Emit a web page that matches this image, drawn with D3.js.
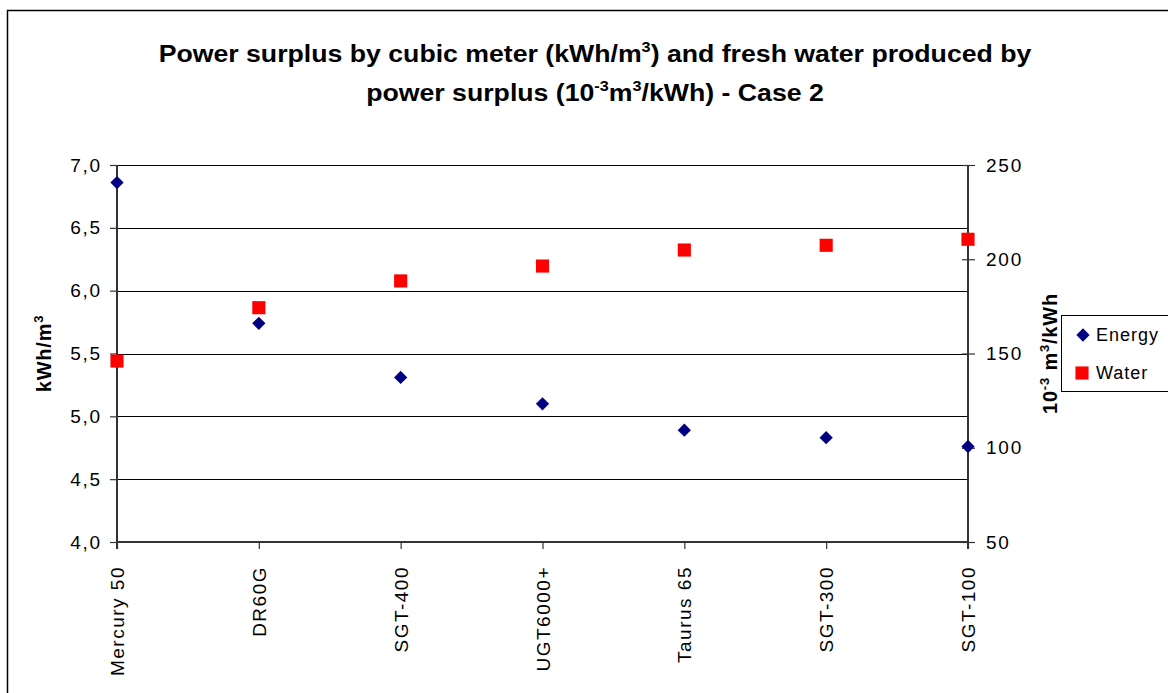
<!DOCTYPE html>
<html>
<head>
<meta charset="utf-8">
<script src="https://cdn.jsdelivr.net/npm/d3@7"></script>
<style>
  html, body { margin: 0; padding: 0; background: #fff; }
  svg { display: block; font-family: "Liberation Sans", Arial, sans-serif; }
</style>
</head>
<body>
<svg id="chart" width="1168" height="693"></svg>
<script>
const categories = ["Mercury 50", "DR60G", "SGT-400", "UGT6000+", "Taurus 65", "SGT-300", "SGT-100"];
const energyValues = [6.86, 5.74, 5.31, 5.10, 4.89, 4.83, 4.76];
const waterValues = [146, 174.3, 188.5, 196.4, 204.9, 207.4, 210.6];
const leftTicks = [4.0, 4.5, 5.0, 5.5, 6.0, 6.5, 7.0];
const rightTicks = [50, 100, 150, 200, 250];
const seriesNames = ["Energy", "Water"];
const seriesColors = ["#000080", "#FF0000"];

const svg = d3.select("#chart");
const plot = { left: 117, right: 968, top: 165, bottom: 542 };
const FONT = "Liberation Sans, Arial, sans-serif";

// outer border (right/bottom edges fall outside the view)
svg.append("rect").attr("x", 7.5).attr("y", 10.5).attr("width", 1200).attr("height", 700)
  .attr("fill", "none").attr("stroke", "#000").attr("stroke-width", 1.5);

const x = d3.scalePoint().domain(categories).range([plot.left, plot.right]);
const yL = d3.scaleLinear().domain([4, 7]).range([plot.bottom, plot.top]);
const yR = d3.scaleLinear().domain([50, 250]).range([plot.bottom, plot.top]);

// gridlines
svg.append("g").selectAll("line").data(leftTicks.filter(d => d > 4)).join("line")
  .attr("x1", plot.left).attr("x2", plot.right)
  .attr("y1", d => Math.round(yL(d)) + 0.5).attr("y2", d => Math.round(yL(d)) + 0.5)
  .attr("stroke", "#000").attr("stroke-width", 1);

const fmt = d => d3.format(".1f")(d).replace(".", ",");
const tickFont = 19, tickSpacing = 1.8;

// left axis
const gL = svg.append("g").attr("transform", `translate(${plot.left},0)`)
  .call(d3.axisLeft(yL).tickValues(leftTicks).tickFormat(fmt).tickSize(7).tickPadding(8));
gL.select(".domain").attr("stroke", "#333").attr("stroke-width", 2).attr("d", `M0,${plot.top}V${plot.bottom + 7}`);
gL.selectAll(".tick line").attr("stroke", "#333").attr("stroke-width", 1.2);
gL.selectAll("text").attr("font-size", tickFont).attr("font-family", FONT)
  .attr("fill", "#000").style("letter-spacing", tickSpacing + "px");

// right axis
const gR = svg.append("g").attr("transform", `translate(${plot.right},0)`)
  .call(d3.axisRight(yR).tickValues(rightTicks).tickFormat(d3.format("d")).tickSize(7).tickPadding(11));
gR.select(".domain").attr("stroke", "#333").attr("stroke-width", 2).attr("d", `M0,${plot.top}V${plot.bottom + 7}`);
gR.selectAll(".tick line").attr("x1", -6).attr("stroke", "#333").attr("stroke-width", 1.2);
gR.selectAll("text").attr("font-size", tickFont).attr("font-family", FONT)
  .attr("fill", "#000").style("letter-spacing", tickSpacing + "px");

// bottom axis
const gB = svg.append("g").attr("transform", `translate(0,${plot.bottom})`)
  .call(d3.axisBottom(x).tickSize(7));
gB.select(".domain").attr("stroke", "#333").attr("stroke-width", 2).attr("d", `M${plot.left},0H${plot.right}`);
gB.selectAll(".tick line").attr("stroke", "#333").attr("stroke-width", 1.2);
gB.selectAll("text")
  .attr("font-size", tickFont).attr("font-family", FONT).attr("fill", "#000")
  .style("letter-spacing", "1.5px")
  .attr("text-anchor", "end")
  .attr("transform", "rotate(-90)")
  .attr("x", -24).attr("y", 0).attr("dy", "0.35em");

// series
const diamond = d3.symbol().type(d3.symbolSquare).size(88);
const square = d3.symbol().type(d3.symbolSquare).size(172);

svg.append("g").selectAll("path").data(categories).join("path")
  .attr("d", square)
  .attr("transform", (c, i) => `translate(${x(c)},${yR(waterValues[i])})`)
  .attr("fill", seriesColors[1]);

svg.append("g").selectAll("path").data(categories).join("path")
  .attr("d", diamond)
  .attr("transform", (c, i) => `translate(${x(c)},${yL(energyValues[i])}) rotate(45)`)
  .attr("fill", seriesColors[0]);

// title (horizontally widened like the reference rendering)
const titleG = svg.append("g").attr("transform", "translate(595,0) scale(1.16,1)");
const title = titleG.append("text").attr("text-anchor", "middle").attr("font-weight", "bold")
  .attr("font-size", 23).attr("fill", "#000");
const t1 = title.append("tspan").attr("x", 0).attr("y", 62);
t1.append("tspan").text("Power surplus by cubic meter (kWh/m");
t1.append("tspan").attr("dy", -10).attr("font-size", 14).text("3");
t1.append("tspan").attr("dy", 10).text(") and fresh water produced by");
const t2 = title.append("tspan").attr("x", 0).attr("y", 101);
t2.append("tspan").text("power surplus (10");
t2.append("tspan").attr("dy", -10).attr("font-size", 14).text("-3");
t2.append("tspan").attr("dy", 10).text("m");
t2.append("tspan").attr("dy", -10).attr("font-size", 14).text("3");
t2.append("tspan").attr("dy", 10).text("/kWh) - Case 2");

// left axis title
const lt = svg.append("text").attr("transform", `translate(51,${(plot.top + plot.bottom) / 2}) rotate(-90)`)
  .attr("text-anchor", "middle").attr("font-weight", "bold").attr("font-size", 20).attr("fill", "#000")
  .style("letter-spacing", "0.8px");
lt.append("tspan").text("kWh/m");
lt.append("tspan").attr("dy", -8).attr("font-size", 13).text("3");

// right axis title
const rt = svg.append("text").attr("transform", `translate(1057,${(plot.top + plot.bottom) / 2}) rotate(-90)`)
  .attr("text-anchor", "middle").attr("font-weight", "bold").attr("font-size", 20).attr("fill", "#000")
  .style("letter-spacing", "0.8px");
rt.append("tspan").text("10");
rt.append("tspan").attr("dy", -8).attr("font-size", 13).text("-3");
rt.append("tspan").attr("dy", 8).text(" m");
rt.append("tspan").attr("dy", -8).attr("font-size", 13).text("3");
rt.append("tspan").attr("dy", 8).text("/kWh");

// legend
const lg = svg.append("g");
lg.append("rect").attr("x", 1061.5).attr("y", 315.5).attr("width", 120).attr("height", 76)
  .attr("fill", "#fff").attr("stroke", "#000").attr("stroke-width", 1);
const legendY = [335, 373];
seriesNames.forEach((name, i) => {
  if (i === 0) {
    lg.append("path").attr("d", diamond).attr("transform", `translate(1083,${legendY[i]}) rotate(45)`).attr("fill", seriesColors[i]);
  } else {
    lg.append("path").attr("d", square).attr("transform", `translate(1082,${legendY[i]})`).attr("fill", seriesColors[i]);
  }
  lg.append("text").attr("x", 1096).attr("y", legendY[i]).attr("dy", "0.35em")
    .attr("font-size", 18).attr("fill", "#000").style("letter-spacing", "1px").text(name);
});
</script>
</body>
</html>
